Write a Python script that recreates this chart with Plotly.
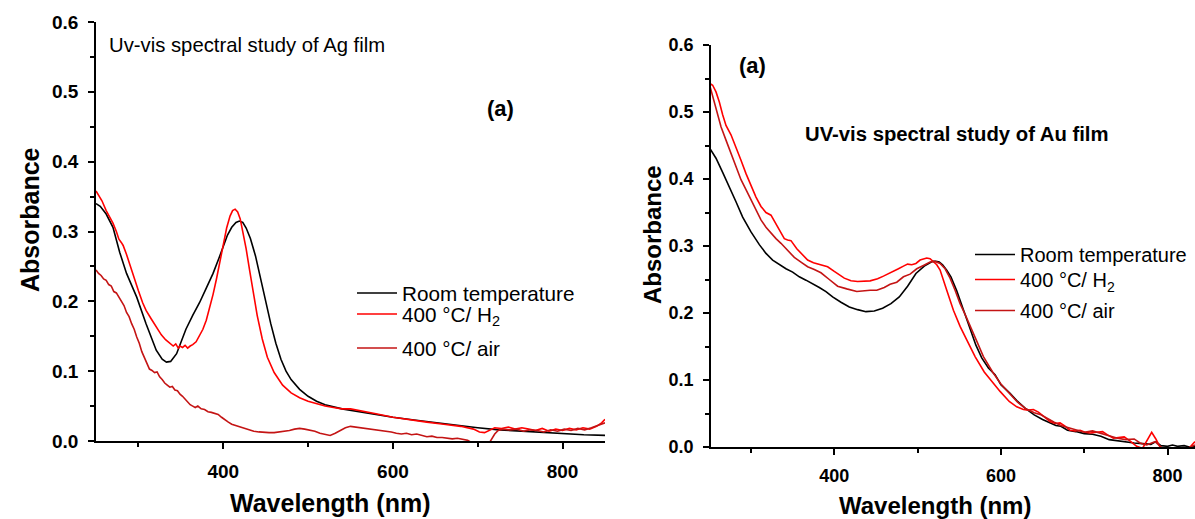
import plotly.graph_objects as go

# ---------------- Data: Ag film (left panel) ----------------
wl_ag_rt = [250, 255, 262, 270, 278, 286, 298, 309, 321, 328, 333, 338, 345, 350, 356, 364, 372, 380, 388,
            395, 400, 405, 410, 415, 419, 423, 427, 432, 438, 444, 450, 456, 462, 468, 474, 480, 490, 500,
            510, 520, 540, 560, 580, 600, 625, 650, 675, 700, 725, 750, 775, 800, 825, 850]
abs_ag_rt = [0.340, 0.336, 0.325, 0.306, 0.270, 0.240, 0.206, 0.168, 0.130, 0.117, 0.113, 0.114, 0.125,
             0.140, 0.160, 0.180, 0.198, 0.219, 0.240, 0.262, 0.280, 0.295, 0.306, 0.313, 0.315, 0.313,
             0.305, 0.290, 0.265, 0.232, 0.200, 0.168, 0.140, 0.117, 0.100, 0.088, 0.074, 0.064, 0.057,
             0.052, 0.046, 0.042, 0.037, 0.034, 0.030, 0.026, 0.022, 0.019, 0.016, 0.014, 0.012, 0.011,
             0.009, 0.008]

wl_ag_h2 = [250, 253, 257, 262, 266, 270, 274, 277, 280, 282, 286, 290, 294, 300, 305, 309, 315, 321,
            327, 332, 337, 341, 344, 347, 349, 352, 355, 358, 361, 364, 368, 372, 376, 380, 384, 388,
            392, 396, 400, 404, 408, 411, 414, 417, 420, 423, 427, 431, 435, 440, 446, 452, 460, 470,
            480, 490, 500, 510, 520, 530, 540, 550, 560, 580, 600, 620, 640, 660, 680, 695, 702, 708,
            714, 720, 728, 736, 744, 752, 760, 768, 776, 784, 792, 800, 808, 816, 824, 832, 840, 846, 850]
abs_ag_h2 = [0.358, 0.352, 0.344, 0.330, 0.321, 0.312, 0.300, 0.289, 0.284, 0.280, 0.267, 0.252, 0.235,
             0.215, 0.198, 0.187, 0.175, 0.163, 0.152, 0.145, 0.140, 0.136, 0.139, 0.133, 0.136, 0.134,
             0.137, 0.133, 0.136, 0.138, 0.142, 0.150, 0.160, 0.173, 0.190, 0.210, 0.232, 0.255, 0.282,
             0.305, 0.322, 0.330, 0.332, 0.328, 0.318, 0.300, 0.275, 0.245, 0.215, 0.180, 0.146, 0.120,
             0.098, 0.080, 0.069, 0.062, 0.057, 0.053, 0.050, 0.048, 0.046, 0.046, 0.044, 0.039, 0.034,
             0.030, 0.027, 0.024, 0.021, 0.017, 0.013, 0.012, 0.016, 0.019, 0.018, 0.020, 0.017, 0.019,
             0.017, 0.015, 0.018, 0.014, 0.017, 0.015, 0.018, 0.016, 0.019, 0.017, 0.021, 0.026, 0.031]

wl_ag_air = [250, 253, 256, 259, 262, 265, 268, 271, 274, 277, 280, 283, 286, 289, 292, 295, 298, 301,
             304, 307, 310, 313, 316, 319, 322, 325, 328, 331, 334, 337, 340, 343, 346, 349, 352, 355,
             358, 361, 364, 367, 370, 374, 378, 382, 386, 390, 394, 398, 402, 406, 410, 415, 420, 425,
             430, 436, 442, 448, 454, 460, 466, 472, 478, 484, 490, 496, 502, 508, 514, 520, 526, 532,
             538, 544, 550, 556, 562, 568, 574, 580, 586, 592, 598, 604, 610, 616, 622, 628, 634, 640,
             646, 652, 658, 664, 670, 676, 682, 688, 694, 700, 706, 712, 716, 720, 724, 730, 738, 746,
             754, 762, 770, 778, 786, 794, 802, 810, 818, 826, 834, 842, 850]
abs_ag_air = [0.245, 0.240, 0.237, 0.232, 0.230, 0.224, 0.222, 0.214, 0.212, 0.206, 0.199, 0.194, 0.184,
              0.178, 0.168, 0.160, 0.149, 0.140, 0.128, 0.120, 0.110, 0.103, 0.101, 0.098, 0.099, 0.092,
              0.088, 0.083, 0.080, 0.077, 0.078, 0.073, 0.072, 0.067, 0.064, 0.060, 0.057, 0.052, 0.050,
              0.048, 0.050, 0.046, 0.045, 0.042, 0.041, 0.039, 0.038, 0.034, 0.030, 0.027, 0.024, 0.022,
              0.020, 0.018, 0.016, 0.014, 0.013, 0.012, 0.012, 0.012, 0.013, 0.013, 0.015, 0.017, 0.018,
              0.017, 0.016, 0.014, 0.011, 0.009, 0.008, 0.011, 0.015, 0.019, 0.021, 0.020, 0.020, 0.018,
              0.017, 0.016, 0.016, 0.014, 0.013, 0.011, 0.010, 0.011, 0.009, 0.010, 0.008, 0.006, 0.007,
              0.005, 0.005, 0.004, 0.003, 0.004, 0.002, 0.001, -0.003, -0.006, -0.008, -0.006, 0.002, 0.010,
              0.015, 0.017, 0.016, 0.017, 0.014, 0.016, 0.015, 0.013, 0.016, 0.014, 0.017, 0.015, 0.018,
              0.016, 0.019, 0.022, 0.026]

# ---------------- Data: Au film (right panel) ----------------
wl_au_rt = [250, 258, 266, 274, 282, 290, 300, 310, 318, 326, 334, 342, 350, 358, 366, 374, 382, 390, 398,
            408, 418, 428, 438, 448, 458, 468, 478, 488, 498, 508, 514, 518, 522, 526, 530, 535, 540,
            547, 555, 563, 570, 577, 585, 593, 600, 611, 620, 629, 640, 650, 660, 666, 672, 680, 690,
            700, 710, 720, 730, 740, 750, 760, 770, 780, 786, 792, 800, 806, 812, 820, 826, 833]
abs_au_rt = [0.447, 0.431, 0.410, 0.389, 0.366, 0.343, 0.321, 0.302, 0.289, 0.279, 0.272, 0.266, 0.261,
             0.254, 0.249, 0.244, 0.238, 0.232, 0.224, 0.216, 0.209, 0.205, 0.202, 0.203, 0.207, 0.214,
             0.224, 0.240, 0.259, 0.270, 0.275, 0.277, 0.277, 0.276, 0.272, 0.264, 0.254, 0.233, 0.205,
             0.175, 0.152, 0.133, 0.118, 0.108, 0.093, 0.080, 0.068, 0.058, 0.048, 0.041, 0.036, 0.032,
             0.031, 0.025, 0.023, 0.020, 0.019, 0.016, 0.011, 0.009, 0.007, 0.006, 0.005, 0.004, 0.008,
             0.002, 0.001, 0.003, 0.001, 0.002, 0.000, 0.001]

wl_au_h2 = [250, 254, 258, 262, 266, 270, 276, 282, 288, 294, 300, 306, 312, 318, 324, 330, 336, 340,
            344, 348, 355, 362, 368, 375, 385, 392, 400, 412, 420, 428, 443, 452, 459, 466, 471, 477,
            483, 488, 493, 498, 503, 507, 511, 515, 519, 523, 527, 531, 535, 543, 551, 559, 569, 580,
            590, 599, 610, 619, 627, 633, 639, 645, 651, 659, 665, 671, 677, 683, 689, 695, 701, 707,
            715, 722, 728, 735, 741, 748, 756, 763, 770, 776, 781, 786, 791, 800, 815, 825, 833]
abs_au_h2 = [0.543, 0.540, 0.530, 0.515, 0.496, 0.480, 0.466, 0.448, 0.428, 0.408, 0.389, 0.373, 0.359,
             0.350, 0.346, 0.333, 0.319, 0.311, 0.309, 0.308, 0.296, 0.287, 0.279, 0.275, 0.271, 0.269,
             0.262, 0.252, 0.248, 0.247, 0.248, 0.251, 0.255, 0.259, 0.262, 0.266, 0.270, 0.273, 0.272,
             0.274, 0.279, 0.281, 0.282, 0.281, 0.277, 0.272, 0.264, 0.250, 0.234, 0.204, 0.180, 0.160,
             0.135, 0.112, 0.096, 0.083, 0.068, 0.060, 0.056, 0.055, 0.056, 0.052, 0.046, 0.038, 0.035,
             0.036, 0.031, 0.025, 0.024, 0.025, 0.022, 0.021, 0.022, 0.023, 0.018, 0.013, 0.014, 0.015,
             0.008, 0.001, -0.002, 0.010, 0.022, 0.012, 0.000, -0.006, -0.005, -0.003, 0.008]

wl_au_air = [250, 257, 264, 270, 276, 282, 288, 294, 300, 306, 312, 318, 324, 330, 336, 344, 352, 360,
             368, 376, 384, 394, 404, 415, 427, 443, 451, 460, 467, 475, 483, 491, 499, 507, 515, 521,
             527, 533, 539, 545, 551, 557, 563, 571, 579, 590, 600, 610, 620, 630, 640, 648, 656, 664,
             672, 680, 690, 700, 710, 720, 730, 740, 750, 760, 767, 775, 785, 795, 810, 820, 833]
abs_au_air = [0.542, 0.510, 0.478, 0.458, 0.439, 0.419, 0.399, 0.384, 0.369, 0.354, 0.339, 0.328, 0.319,
              0.311, 0.304, 0.294, 0.283, 0.276, 0.269, 0.265, 0.260, 0.250, 0.240, 0.236, 0.232, 0.234,
              0.234, 0.238, 0.243, 0.246, 0.254, 0.258, 0.266, 0.271, 0.276, 0.277, 0.274, 0.266, 0.252,
              0.234, 0.214, 0.198, 0.180, 0.158, 0.135, 0.112, 0.094, 0.080, 0.067, 0.057, 0.051, 0.048,
              0.042, 0.037, 0.032, 0.029, 0.025, 0.022, 0.024, 0.020, 0.016, 0.013, 0.011, 0.012, 0.006,
              0.003, 0.008, -0.003, -0.005, -0.004, 0.003]

names = ["Room temperature", "400 °C/ H<sub>2</sub>", "400 °C/ air"]
colors = ["#000000", "#FF0000", "#C41414"]

FONT = "Liberation Sans, Arial, sans-serif"
W, H = 1195, 519


def px_x(p):
    return p / W


def px_y(p):
    return 1 - p / H


fig = go.Figure()

ag_series = [(wl_ag_rt, abs_ag_rt), (wl_ag_h2, abs_ag_h2), (wl_ag_air, abs_ag_air)]
au_series = [(wl_au_rt, abs_au_rt), (wl_au_h2, abs_au_h2), (wl_au_air, abs_au_air)]

# one legend box per entry, so the uneven row spacing of the original can be reproduced
ag_legend_ids = ["legend", "legend2", "legend3"]
au_legend_ids = ["legend4", "legend5", "legend6"]
ag_legend_tops = [273, 294, 328]
au_legend_tops = [235, 260, 291]

for (x, y), name, c, lid in zip(ag_series, names, colors, ag_legend_ids):
    fig.add_trace(go.Scatter(x=x, y=y, mode="lines", name=name, showlegend=True,
                             line=dict(color=c, width=1.6), xaxis="x", yaxis="y",
                             legend=lid))
for (x, y), name, c, lid in zip(au_series, names, colors, au_legend_ids):
    fig.add_trace(go.Scatter(x=x, y=y, mode="lines", name=name, showlegend=True,
                             line=dict(color=c, width=1.6), xaxis="x2", yaxis="y2",
                             legend=lid))

tickfont = dict(family=FONT, size=19, color="black", weight="bold")
common_axis = dict(showline=True, linecolor="black", linewidth=1.6, ticks="outside",
                   ticklen=6, tickwidth=1.6, tickcolor="black", showgrid=False,
                   zeroline=False, mirror=False, automargin=False)

legend_layout = {}
for lid, top in zip(ag_legend_ids, ag_legend_tops):
    legend_layout[lid] = dict(x=px_x(352), y=px_y(top), xanchor="left", yanchor="top",
                              font=dict(family=FONT, size=20.7, color="black"),
                              bgcolor="rgba(0,0,0,0)", itemwidth=40, visible=True)
for lid, top in zip(au_legend_ids, au_legend_tops):
    legend_layout[lid] = dict(x=px_x(970), y=px_y(top), xanchor="left", yanchor="top",
                              font=dict(family=FONT, size=20, color="black"),
                              bgcolor="rgba(0,0,0,0)", itemwidth=40, visible=True)

fig.update_layout(
    width=W, height=H,
    showlegend=True,
    margin=dict(l=0, r=0, t=0, b=0, pad=0, autoexpand=False),
    paper_bgcolor="white", plot_bgcolor="white",
    font=dict(family=FONT, color="black"),
    xaxis=dict(domain=[px_x(96), px_x(605)], range=[250, 850], dtick=200, tick0=0,
               minor=dict(dtick=100, ticks="outside", ticklen=4, tickwidth=1.6, tickcolor="black"),
               tickfont=tickfont, anchor="y", ticklabelstandoff=6, **common_axis),
    yaxis=dict(domain=[px_y(441), px_y(22)], range=[0, 0.6], dtick=0.1, tick0=0,
               tickformat=".1f",
               minor=dict(dtick=0.05, ticks="outside", ticklen=4, tickwidth=1.6, tickcolor="black"),
               tickfont=tickfont, anchor="x", ticklabelstandoff=6, **common_axis),
    xaxis2=dict(domain=[px_x(711), 1.0], range=[252, 833], dtick=200, tick0=0,
                minor=dict(dtick=100, ticks="outside", ticklen=4, tickwidth=1.6, tickcolor="black"),
                tickfont=dict(tickfont, size=18), anchor="y2", ticklabelstandoff=6, **common_axis),
    yaxis2=dict(domain=[px_y(447), px_y(45)], range=[0, 0.6], dtick=0.1, tick0=0,
                tickformat=".1f",
                minor=dict(dtick=0.05, ticks="outside", ticklen=4, tickwidth=1.6, tickcolor="black"),
                tickfont=dict(tickfont, size=18), anchor="x2", ticklabelstandoff=6, **common_axis),
    **legend_layout,
)

annotations = [
    dict(text="<b>Absorbance</b>", x=px_x(30), y=px_y(220), textangle=-90, size=25),
    dict(text="<b>Wavelength (nm)</b>", x=px_x(330), y=px_y(503), textangle=0, size=25),
    dict(text="<b>Absorbance</b>", x=px_x(652), y=px_y(235), textangle=-90, size=24),
    dict(text="<b>Wavelength (nm)</b>", x=px_x(935), y=px_y(505), textangle=0, size=24),
    dict(text="Uv-vis spectral study of Ag film", x=px_x(247), y=px_y(45), textangle=0, size=20.3),
    dict(text="<b>(a)</b>", x=px_x(500), y=px_y(108), textangle=0, size=22),
    dict(text="<b>(a)</b>", x=px_x(752), y=px_y(65), textangle=0, size=22),
    dict(text="<b>UV-vis spectral study of Au film</b>", x=px_x(957), y=px_y(134), textangle=0, size=20.3),
]
for a in annotations:
    fig.add_annotation(text=a["text"], x=a["x"], y=a["y"], xref="paper", yref="paper",
                       xanchor="center", yanchor="middle", showarrow=False,
                       textangle=a["textangle"],
                       font=dict(family=FONT, size=a["size"], color="black"))

fig.write_html("out.html")
